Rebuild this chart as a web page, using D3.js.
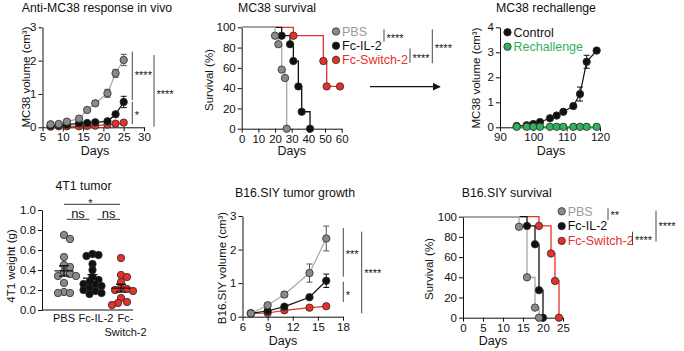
<!DOCTYPE html>
<html>
<head>
<meta charset="utf-8">
<script src="https://cdn.jsdelivr.net/npm/d3@7"></script>
<style>
  body { margin: 0; background: #fff; }
  svg { font-family: "Liberation Sans", Arial, sans-serif; }
</style>
</head>
<body>
<div id="fig"></div>
<script>
// ---- data ----
// MC38 growth (cm3)
const mc38Days = [7, 9, 11, 14, 16, 18, 21, 23, 25]
const mc38PBS = [0.09, 0.10, 0.17, 0.26, 0.52, 0.72, 1.02, 1.62, 2.02]
const mc38PBSErr = [0.02, 0.02, 0.05, 0.04, 0.05, 0.08, 0.12, 0.12, 0.17]
const mc38IL2 = [0.05, 0.06, 0.08, 0.12, 0.13, 0.15, 0.18, 0.39, 0.76]
const mc38IL2Err = [0.01, 0.01, 0.02, 0.03, 0.03, 0.04, 0.05, 0.06, 0.17]
const mc38SW2 = [0.02, 0.03, 0.03, 0.03, 0.04, 0.05, 0.08, 0.11, 0.14]
const mc38SW2Err = [0.01, 0.01, 0.01, 0.01, 0.01, 0.02, 0.02, 0.03, 0.03]

// MC38 survival (%), event days and survival after each event
const mc38SurvPBSDays = [20, 22, 24, 26, 27]
const mc38SurvPBS = [91.7, 83.3, 58.3, 50, 0]
const mc38SurvIL2Days = [24, 29, 31, 34, 36, 41]
const mc38SurvIL2 = [91.7, 83.3, 66.7, 41.7, 16.7, 0]
const mc38SurvSW2Days = [31, 49, 51, 59]
const mc38SurvSW2 = [91.7, 66.7, 41.7, 41.7]

// MC38 rechallenge (cm3)
const rechDays = [95, 98, 100, 102, 105, 107, 109, 112, 114, 116, 119]
const rechControl = [0.05, 0.08, 0.13, 0.21, 0.36, 0.47, 0.62, 0.85, 1.33, 2.62, 3.07]
const rechControlErr = [0.02, 0.02, 0.03, 0.04, 0.04, 0.05, 0.05, 0.06, 0.28, 0.26, 0.08]
const rechRechallenge = [0.02, 0.02, 0.02, 0.02, 0.02, 0.02, 0.02, 0.02, 0.02, 0.02, 0.02]

// 4T1 tumor weight (g)
const t4Groups = ["PBS", "Fc-IL-2", "Fc-Switch-2"]
const t4PBS = [0.75, 0.71, 0.53, 0.45, 0.43, 0.38, 0.36, 0.34, 0.34, 0.27, 0.18, 0.17, 0.17]
const t4IL2 = [0.56, 0.55, 0.54, 0.46, 0.40, 0.33, 0.30, 0.28, 0.26, 0.25, 0.24, 0.22, 0.20, 0.19, 0.17, 0.16]
const t4SW2 = [0.52, 0.35, 0.33, 0.28, 0.22, 0.21, 0.20, 0.19, 0.12, 0.08, 0.07, 0.05]

// B16.SIY growth (cm3)
const b16Days = [7, 9, 11, 14, 16]
const b16PBS = [0.10, 0.34, 0.66, 1.30, 2.33]
const b16PBSErr = [0.03, 0.05, 0.08, 0.27, 0.37]
const b16IL2 = [0.10, 0.17, 0.30, 0.58, 1.07]
const b16IL2Err = [0.02, 0.03, 0.04, 0.05, 0.20]
const b16SW2 = [0.10, 0.11, 0.19, 0.27, 0.31]
const b16SW2Err = [0.02, 0.02, 0.03, 0.04, 0.04]

// B16.SIY survival (%)
const b16SurvPBSDays = [14, 16, 18, 19]
const b16SurvPBS = [90, 40, 10, 0]
const b16SurvIL2Days = [16, 18, 19, 20]
const b16SurvIL2 = [90.9, 72.7, 27.3, 0]
const b16SurvSW2Days = [19, 22, 23, 24]
const b16SurvSW2 = [90.9, 63.6, 36.4, 0]

// ---- drawing ----
const col = {
  gray: "#8a8a8a", grayLine: "#a8a8a8", grayText: "#9a9a9a",
  black: "#111", red: "#e6302a", green: "#33b05f", edge: "#2b2b2b"
}

const svg = d3.select("#fig").append("svg")
    .attr("width", 684)
    .attr("height", 351)

function label(x, y, s, size, color, anchor) {
  return svg.append("text")
    .attr("x", x).attr("y", y)
    .attr("font-size", size || 12)
    .attr("fill", color || "#111")
    .attr("text-anchor", anchor || "middle")
    .text(s)
}

function ylabel(x, y, s) {
  svg.append("text")
    .attr("transform", "translate(" + x + "," + y + ") rotate(-90)")
    .attr("font-size", 11.5)
    .attr("text-anchor", "middle")
    .attr("fill", "#111")
    .text(s)
}

function axes(x, y, xTicks, yTicks, yFmt) {
  var gx = svg.append("g")
      .attr("transform", "translate(0," + y.range()[0] + ")")
      .call(d3.axisBottom(x).tickValues(xTicks).tickSize(4).tickPadding(2).tickSizeOuter(0))
  var gy = svg.append("g")
      .attr("transform", "translate(" + x.range()[0] + ",0)")
      .call(d3.axisLeft(y).tickValues(yTicks).tickSize(4).tickPadding(2).tickSizeOuter(0).tickFormat(yFmt || d3.format("d")))
  ;[gx, gy].forEach(g => {
    g.selectAll("text").attr("font-size", 11.5).attr("font-family", null).attr("fill", "#111")
    g.selectAll("line, path").attr("stroke", "#111").attr("stroke-width", 1)
  })
}

function growth(x, y, days, vals, errs, fill, line) {
  var g = svg.append("g")
  g.append("path")
    .datum(days)
    .attr("fill", "none")
    .attr("stroke", line)
    .attr("stroke-width", 1.2)
    .attr("d", d3.line().x(d => x(d)).y((d, i) => y(vals[i])))
  if (errs) {
    days.forEach((d, i) => {
      var lo = y(vals[i] - errs[i]), hi = y(vals[i] + errs[i])
      g.append("path")
        .attr("fill", "none")
        .attr("stroke", fill == col.gray ? "#555" : line)
        .attr("stroke-width", 1)
        .attr("d", "M" + (x(d) - 3) + "," + hi + "H" + (x(d) + 3) + "M" + x(d) + "," + hi + "V" + lo
                 + "M" + (x(d) - 3) + "," + lo + "H" + (x(d) + 3))
    })
  }
  g.selectAll("circle")
    .data(days)
    .join("circle")
    .attr("cx", d => x(d))
    .attr("cy", (d, i) => y(vals[i]))
    .attr("r", 3.7)
    .attr("fill", fill)
    .attr("stroke", col.edge)
    .attr("stroke-width", 0.8)
}

function km(x, y, days, vals, fill, line) {
  var pts = [[0, 100]], prev = 100
  days.forEach((d, i) => {
    pts.push([d, prev])
    pts.push([d, vals[i]])
    prev = vals[i]
  })
  svg.append("path")
    .attr("fill", "none")
    .attr("stroke", line)
    .attr("stroke-width", 1.3)
    .attr("d", d3.line().x(p => x(p[0])).y(p => y(p[1]))(pts))
  return function() {
    svg.append("g").selectAll("circle")
      .data(days)
      .join("circle")
      .attr("cx", d => x(d))
      .attr("cy", (d, i) => y(vals[i]))
      .attr("r", 3.7)
      .attr("fill", fill)
      .attr("stroke", col.edge)
      .attr("stroke-width", 0.8)
  }
}

function legend(x, y0, step, items) {
  items.forEach((it, i) => {
    svg.append("circle")
      .attr("cx", x).attr("cy", y0 + i * step)
      .attr("r", 3.7)
      .attr("fill", it[1])
      .attr("stroke", col.edge)
      .attr("stroke-width", 0.8)
    label(x + 6, y0 + i * step + 4.3, it[0], 12.5, it[2], "start")
  })
}

function sig(x, y1, y2, stars, ty) {
  svg.append("line")
    .attr("x1", x).attr("x2", x)
    .attr("y1", y1).attr("y2", y2)
    .attr("stroke", "#333")
    .attr("stroke-width", 0.9)
  label(x + 2.5, ty, stars, 11, "#111", "start")
}

// Panel 1: Anti-MC38 response in vivo
var x1 = d3.scaleLinear().domain([5, 30]).range([42.5, 144])
var y1 = d3.scaleLinear().domain([0, 3]).range([127.3, 27.3])
axes(x1, y1, [5, 10, 15, 20, 25, 30], [0, 1, 2, 3])
growth(x1, y1, mc38Days, mc38SW2, mc38SW2Err, col.red, col.red)
growth(x1, y1, mc38Days, mc38IL2, mc38IL2Err, col.black, col.black)
growth(x1, y1, mc38Days, mc38PBS, mc38PBSErr, col.gray, col.grayLine)
label(97, 12, "Anti-MC38 response in vivo", 12.3)
ylabel(30, 77, "MC38 volume (cm³)")
label(95, 155, "Days", 12.5)
sig(132.3, 51.7, 100, "****", 79)
sig(132.3, 101.7, 124, "*", 118.5)
sig(154, 55, 126.7, "****", 98)

// Panel 2: MC38 survival
var x2 = d3.scaleLinear().domain([0, 60]).range([241.7, 341.7])
var y2 = d3.scaleLinear().domain([0, 100]).range([128.7, 27.3])
axes(x2, y2, d3.range(0, 61, 10), d3.range(0, 101, 20))
var p2a = km(x2, y2, mc38SurvSW2Days, mc38SurvSW2, col.red, col.red)
var p2b = km(x2, y2, mc38SurvIL2Days, mc38SurvIL2, col.black, col.black)
var p2c = km(x2, y2, mc38SurvPBSDays, mc38SurvPBS, col.gray, col.grayLine)
p2a(); p2b(); p2c()
label(277, 12, "MC38 survival", 12.3)
ylabel(213, 80, "Survival (%)")
label(291.7, 155, "Days", 12.5)
legend(336, 31.5, 14.2, [["PBS", col.gray, col.grayText], ["Fc-IL-2", col.black, "#111"], ["Fc-Switch-2", col.red, col.red]])
sig(384, 29.3, 41.7, "****", 42)
sig(410, 48.3, 62.7, "****", 61.5)
sig(432.3, 29.3, 63.3, "****", 51.5)

// arrow
svg.append("defs").append("marker")
    .attr("id", "arrowhead")
    .attr("viewBox", "0 0 10 10")
    .attr("refX", 9).attr("refY", 5)
    .attr("markerWidth", 8).attr("markerHeight", 8)
    .attr("markerUnits", "userSpaceOnUse")
    .attr("orient", "auto")
  .append("path")
    .attr("d", "M0,0L10,5L0,10Z")
    .attr("fill", "#111")
svg.append("line")
    .attr("x1", 370).attr("x2", 440)
    .attr("y1", 86.7).attr("y2", 86.7)
    .attr("stroke", "#111")
    .attr("stroke-width", 1.2)
    .attr("marker-end", "url(#arrowhead)")

// Panel 3: MC38 rechallenge
var x3 = d3.scaleLinear().domain([90, 120]).range([500, 600])
var y3 = d3.scaleLinear().domain([0, 4]).range([127.3, 27.3])
axes(x3, y3, [90, 100, 110, 120], [0, 1, 2, 3, 4])
growth(x3, y3, rechDays, rechControl, rechControlErr, col.black, col.black)
growth(x3, y3, rechDays, rechRechallenge, null, col.green, col.green)
label(546, 12, "MC38 rechallenge", 12.3)
ylabel(480, 78, "MC38 volume (cm³)")
label(551, 155, "Days", 12.5)
legend(507.5, 32.3, 14.4, [["Control", col.black, "#111"], ["Rechallenge", col.green, col.green]])

// Panel 4: 4T1 tumor
var x4 = d3.scalePoint().domain(t4Groups).range([64, 121])
var y4 = d3.scaleLinear().domain([0, 1]).range([310, 210])
var gx4 = svg.append("g").attr("transform", "translate(0,310)")
gx4.append("line").attr("x1", 42).attr("x2", 133).attr("stroke", "#111")
var gy4 = svg.append("g")
    .attr("transform", "translate(42,0)")
    .call(d3.axisLeft(y4).tickValues([0, 0.2, 0.4, 0.6, 0.8, 1.0]).tickSize(4).tickPadding(2).tickSizeOuter(0).tickFormat(d3.format(".1f")))
gy4.selectAll("text").attr("font-size", 11.5).attr("font-family", null).attr("fill", "#111")
gy4.selectAll("line, path").attr("stroke", "#111")
var t4Shift = [0, 3.5, 4.5]
t4Groups.forEach((g, i) => {
  var cx = x4(g) + t4Shift[i]
  if (i < 2) label(cx, 321.5, g, 11)
  else { label(cx, 321.5, "Fc-", 11); label(cx, 335.5, "Switch-2", 11) }
})

// simple deterministic swarm: points may overlap a little, like the original
function dodge(vals, cx, minDist, step) {
  var placed = [], out = []
  var order = d3.range(vals.length).sort((a, b) => vals[b] - vals[a])
  order.forEach(i => {
    var py = y4(vals[i])
    for (var k = 0; k < 30; k++) {
      var off = k == 0 ? 0 : (k % 2 ? 1 : -1) * Math.ceil(k / 2) * step
      var px = cx + off
      if (placed.every(p => Math.hypot(p[0] - px, p[1] - py) >= minDist)) {
        placed.push([px, py]); out[i] = [px, py]; break
      }
    }
  })
  return out
}

;[[t4PBS, col.gray], [t4IL2, col.black], [t4SW2, col.red]].forEach((s, gi) => {
  var cx = x4(t4Groups[gi])
  var pts = dodge(s[0], cx, 5.8, 3)
  svg.append("g").selectAll("circle")
    .data(pts)
    .join("circle")
    .attr("cx", d => d[0]).attr("cy", d => d[1])
    .attr("r", 3.7)
    .attr("fill", s[1])
    .attr("stroke", col.edge)
    .attr("stroke-width", 0.8)
  var m = d3.mean(s[0]), se = d3.deviation(s[0]) / Math.sqrt(s[0].length)
  svg.append("path")
    .attr("fill", "none")
    .attr("stroke", "#111")
    .attr("stroke-width", 1.3)
    .attr("d", "M" + (cx - 9.5) + "," + y4(m) + "H" + (cx + 9.5)
             + "M" + cx + "," + y4(m + se) + "V" + y4(m - se)
             + "M" + (cx - 5) + "," + y4(m + se) + "H" + (cx + 5)
             + "M" + (cx - 5) + "," + y4(m - se) + "H" + (cx + 5))
})
label(83.5, 190, "4T1 tumor", 12.3)
ylabel(15, 266, "4T1 weight (g)")
svg.append("line").attr("x1", 64).attr("x2", 120).attr("y1", 204.3).attr("y2", 204.3).attr("stroke", "#333")
label(90.5, 206.5, "*", 11)
svg.append("line").attr("x1", 66.7).attr("x2", 89.3).attr("y1", 219.3).attr("y2", 219.3).attr("stroke", "#333")
svg.append("line").attr("x1", 97.3).attr("x2", 120).attr("y1", 219.3).attr("y2", 219.3).attr("stroke", "#333")
label(78, 217.5, "ns", 13)
label(108.7, 217.5, "ns", 13)

// Panel 5: B16.SIY tumor growth
var x5 = d3.scaleLinear().domain([6, 18]).range([242.5, 343])
var y5 = d3.scaleLinear().domain([0, 3]).range([316.7, 216])
axes(x5, y5, [6, 9, 12, 15, 18], [0, 1, 2, 3])
growth(x5, y5, b16Days, b16SW2, b16SW2Err, col.red, col.red)
growth(x5, y5, b16Days, b16IL2, b16IL2Err, col.black, col.black)
growth(x5, y5, b16Days, b16PBS, b16PBSErr, col.gray, col.grayLine)
label(295, 196.5, "B16.SIY tumor growth", 12.3)
ylabel(226, 268, "B16.SIY volume (cm³)")
label(283, 345, "Days", 12.5)
sig(343.3, 228, 276.7, "***", 258)
sig(343.3, 281.7, 302, "*", 299)
sig(361.7, 231.7, 313.3, "****", 276.5)

// Panel 6: B16.SIY survival
var x6 = d3.scaleLinear().domain([0, 25]).range([463, 563])
var y6 = d3.scaleLinear().domain([0, 100]).range([317.7, 216.7])
axes(x6, y6, d3.range(0, 26, 5), d3.range(0, 101, 20))
var p6a = km(x6, y6, b16SurvSW2Days, b16SurvSW2, col.red, col.red)
var p6b = km(x6, y6, b16SurvIL2Days, b16SurvIL2, col.black, col.black)
var p6c = km(x6, y6, b16SurvPBSDays, b16SurvPBS, col.gray, col.grayLine)
p6a(); p6b(); p6c()
label(506.7, 196.5, "B16.SIY survival", 12.3)
ylabel(433, 269, "Survival (%)")
label(493, 345, "Days", 12.5)
legend(561.7, 211.3, 14.8, [["PBS", col.gray, col.grayText], ["Fc-IL-2", col.black, "#111"], ["Fc-Switch-2", col.red, col.red]])
sig(608, 208.3, 220, "**", 218.5)
sig(632.5, 231.7, 245, "****", 243.5)
sig(656, 210.7, 241.7, "****", 229.5)
</script>
</body>
</html>
